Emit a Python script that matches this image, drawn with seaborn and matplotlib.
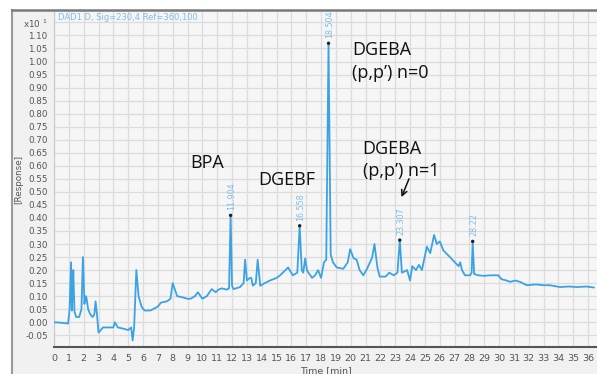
import numpy as np
import pandas as pd
import matplotlib
matplotlib.use("Agg")
import matplotlib.pyplot as plt
import seaborn as sns

# ---- data ----
time_min = [0.0, 0.5, 0.95, 1.05, 1.15, 1.2, 1.25, 1.3, 1.38, 1.5, 1.7, 1.85, 1.95, 2.05, 2.15, 2.2,
            2.3, 2.45, 2.6, 2.72, 2.8, 2.9, 3.0, 3.3, 3.7, 4.0, 4.1, 4.3, 4.7, 5.0, 5.2, 5.3, 5.4,
            5.55, 5.7, 5.9, 6.1, 6.5, 7.0, 7.2, 7.6, 7.85, 8.0, 8.3, 8.7, 9.0, 9.2, 9.5, 9.7, 10.0,
            10.3, 10.63, 10.9, 11.08, 11.3, 11.64, 11.8, 11.904, 12.0, 12.1, 12.54, 12.78, 12.88,
            13.0, 13.2, 13.3, 13.4, 13.6, 13.73, 13.9, 14.2, 14.56, 15.0, 15.24, 15.6, 15.78, 16.1,
            16.4, 16.558, 16.7, 16.8, 16.93, 17.05, 17.15, 17.4, 17.6, 17.8, 18.0, 18.2, 18.35,
            18.504, 18.65, 18.8, 19.06, 19.5, 19.8, 19.96, 20.2, 20.4, 20.6, 20.85, 21.1, 21.3,
            21.45, 21.6, 21.8, 21.95, 22.35, 22.6, 22.9, 23.15, 23.307, 23.45, 23.8, 24.0, 24.15,
            24.4, 24.6, 24.8, 25.13, 25.36, 25.62, 25.8, 26.0, 26.25, 26.6, 26.93, 27.27, 27.38,
            27.5, 27.7, 28.05, 28.15, 28.22, 28.32, 28.6, 29.0, 29.4, 29.94, 30.17, 30.5, 30.75,
            31.1, 31.4, 31.87, 32.5, 33.0, 33.4, 34.1, 34.7, 35.24, 35.9, 36.4]
response = [0.0, -0.002, -0.005, 0.05, 0.23, 0.045, 0.11, 0.20, 0.04, 0.02, 0.02, 0.05, 0.25, 0.07, 0.10,
            0.09, 0.05, 0.03, 0.02, 0.03, 0.08, 0.03, -0.04, -0.02, -0.02, -0.02, 0.0, -0.02, -0.025, -0.03,
            -0.02, -0.07, -0.02, 0.20, 0.10, 0.06, 0.045, 0.045, 0.06, 0.075, 0.08, 0.09, 0.15, 0.10, 0.095,
            0.09, 0.09, 0.10, 0.115, 0.09, 0.10, 0.127, 0.115, 0.125, 0.13, 0.125, 0.13, 0.41, 0.14, 0.127,
            0.135, 0.15, 0.24, 0.16, 0.17, 0.17, 0.14, 0.15, 0.24, 0.14, 0.15, 0.16, 0.17, 0.18, 0.20, 0.21,
            0.18, 0.19, 0.37, 0.2, 0.19, 0.245, 0.2, 0.19, 0.17, 0.18, 0.20, 0.17, 0.23, 0.24, 1.07, 0.26,
            0.23, 0.21, 0.205, 0.23, 0.28, 0.245, 0.24, 0.20, 0.18, 0.205, 0.23, 0.25, 0.30, 0.21, 0.175,
            0.175, 0.19, 0.18, 0.19, 0.315, 0.19, 0.20, 0.16, 0.215, 0.20, 0.22, 0.20, 0.29, 0.265, 0.335,
            0.30, 0.31, 0.275, 0.255, 0.235, 0.215, 0.23, 0.20, 0.18, 0.18, 0.19, 0.31, 0.185, 0.18, 0.178,
            0.18, 0.18, 0.165, 0.16, 0.155, 0.16, 0.155, 0.142, 0.145, 0.142, 0.142, 0.135, 0.137, 0.135,
            0.137, 0.133]

peak_times = [11.904, 16.558, 18.504, 23.307, 28.22]
peak_heights = [0.41, 0.37, 1.07, 0.315, 0.31]
peak_labels = ["11.904", "16.558", "18.504", "23.307", "28.22"]

x_ticks = list(range(0, 37))
y_ticks = [-0.05, 0.00, 0.05, 0.10, 0.15, 0.20, 0.25, 0.30, 0.35, 0.40, 0.45, 0.50, 0.55, 0.60,
           0.65, 0.70, 0.75, 0.80, 0.85, 0.90, 0.95, 1.00, 1.05, 1.10, 1.15]
y_tick_labels = ["-0.05", "0.00", "0.05", "0.10", "0.15", "0.20", "0.25", "0.30", "0.35", "0.40",
                 "0.45", "0.50", "0.55", "0.60", "0.65", "0.70", "0.75", "0.80", "0.85", "0.90",
                 "0.95", "1.00", "1.05", "1.10", "x10 $^{1}$"]

compound_labels = ["BPA", "DGEBF", "DGEBA\n(p,p\u2019) n=0", "DGEBA\n(p,p\u2019) n=1"]
compound_pos = [(9.15, 0.61), (13.75, 0.546), (20.1, 1.0), (20.8, 0.622)]

title_text = "DAD1 D, Sig=230,4 Ref=360,100"
line_color = "#3ba3e3"
label_blue = "#7fbde8"

# ---- figure ----
sns.set_style("white")
fig = plt.figure(figsize=(5.97, 3.74), dpi=100)
fig.patch.set_facecolor("white")
W, H = 597.0, 374.0

# screenshot panel background (behind everything)
bg = fig.add_axes([12 / W, 0, 1 - 12 / W, 1 - 10 / H], zorder=-5)
bg.set_facecolor("#f1f1f1")
bg.set_xticks([])
bg.set_yticks([])
for s in ["right", "bottom"]:
    bg.spines[s].set_visible(False)
bg.spines["top"].set_color("#7a7a7a")
bg.spines["top"].set_linewidth(1.8)
bg.spines["left"].set_color("#9a9a9a")
bg.spines["left"].set_linewidth(1.5)

ax = fig.add_axes([54 / W, 27 / H, (597 - 54) / W, (347 - 12) / H], zorder=2)
ax.set_facecolor("#f6f6f6")

df = pd.DataFrame({"Time [min]": time_min, "Response": response})
sns.lineplot(data=df, x="Time [min]", y="Response", ax=ax, color=line_color, lw=1.3,
             estimator=None, sort=False, zorder=3)

pk = pd.DataFrame({"t": peak_times, "h": peak_heights})
sns.scatterplot(data=pk, x="t", y="h", ax=ax, color="#222222", s=6, edgecolor="none", zorder=4)
for t, h, lab in zip(peak_times, peak_heights, peak_labels):
    ax.text(t + 0.05, h + 0.02, lab, rotation=90, ha="center", va="bottom",
            fontsize=5.8, color=label_blue, zorder=5)

for lab, (tx, ty) in zip(compound_labels, compound_pos):
    ax.text(tx, ty, lab, fontsize=13, family="Open Sans", color="#111111",
            ha="left", va="center", linespacing=1.3, zorder=5)

ax.annotate("", xy=(23.35, 0.47), xytext=(24.0, 0.56),
            arrowprops=dict(arrowstyle="->", color="#111111", lw=1.1))

ax.text(0.3, 1.185, title_text, fontsize=6, color=label_blue, ha="left", va="top", zorder=5)

ax.set_xlim(0, 36.6)
ax.set_ylim(-0.095, 1.19)
ax.set_xticks(x_ticks)
ax.set_xticklabels([str(v) for v in x_ticks], fontsize=6.8, color="#555555")
ax.set_yticks(y_ticks)
ax.set_yticklabels(y_tick_labels, fontsize=6.3, color="#555555")
ax.grid(True, color="#dcdcdc", lw=0.9, zorder=0)
ax.set_axisbelow(True)

ax.tick_params(axis="x", direction="out", length=3, width=0.8, color="#555555", pad=2)
ax.tick_params(axis="y", direction="out", length=2.5, width=0.6, color="#888888", pad=2)
for s in ["top", "right"]:
    ax.spines[s].set_visible(False)
ax.spines["bottom"].set_color("#555555")
ax.spines["bottom"].set_linewidth(1.5)
ax.spines["left"].set_color("#c8c8c8")
ax.spines["left"].set_linewidth(0.8)

ax.set_xlabel("Time [min]", fontsize=6.8, color="#555555", labelpad=2)
ax.set_ylabel("[Response]", fontsize=6.3, color="#555555", labelpad=0)

fig.savefig("out.png", dpi=100, facecolor=fig.get_facecolor())
